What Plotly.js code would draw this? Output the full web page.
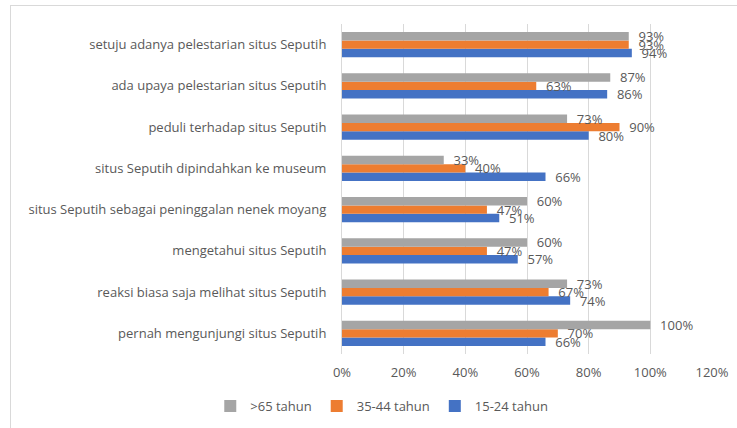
<!DOCTYPE html>
<html>
<head>
<meta charset="utf-8">
<script src="https://cdn.plot.ly/plotly-3.0.1.min.js"></script>
<style>
html,body{margin:0;padding:0;background:#fff;}
#frame{position:absolute;left:10px;top:5px;width:740px;height:440px;border-top:1.5px solid #d9d9d9;border-left:1.5px solid #d9d9d9;pointer-events:none;}
#chart{position:absolute;left:0;top:0;width:737px;height:428px;}
</style>
</head>
<body>
<div id="chart"></div>
<div id="frame"></div>
<script>
const categories = [
  "pernah mengunjungi situs Seputih",
  "reaksi biasa saja melihat situs Seputih",
  "mengetahui situs Seputih",
  "situs Seputih sebagai peninggalan nenek moyang",
  "situs Seputih dipindahkan ke museum",
  "peduli terhadap situs Seputih",
  "ada upaya pelestarian situs Seputih",
  "setuju adanya pelestarian situs Seputih"
];
const seriesNames = ["15-24 tahun", "35-44 tahun", ">65 tahun"];
const v15_24 = [66, 74, 57, 51, 66, 80, 86, 94];
const v35_44 = [70, 67, 47, 47, 40, 90, 63, 93];
const v65plus = [100, 73, 60, 60, 33, 73, 87, 93];
const tickVals = [0, 20, 40, 60, 80, 100, 120];
const tickText = ["0%", "20%", "40%", "60%", "80%", "100%", "120%"];

const colors = ["#4472c4", "#ed7d31", "#a5a5a5"];
const allVals = [v15_24, v35_44, v65plus];
const fam = "Open Sans, Liberation Sans, sans-serif";

const traces = allVals.map((vals, i) => ({
  type: "bar",
  orientation: "h",
  name: seriesNames[i],
  y: categories,
  x: vals,
  marker: {color: colors[i]},
  text: vals.map(v => "\u00a0\u00a0" + v + "%"),
  textposition: "outside",
  constraintext: "none",
  cliponaxis: false,
  textfont: {family: fam, color: "#595959", size: 13},
  hoverinfo: "none"
}));

const layout = {
  width: 737, height: 428,
  margin: {l: 342, r: 25, t: 24, b: 74},
  paper_bgcolor: "#fff", plot_bgcolor: "#fff",
  barmode: "group",
  bargap: 0.39,
  bargroupgap: 0,
  font: {family: fam, color: "#595959", size: 12},
  xaxis: {
    range: [0, 120],
    tickvals: tickVals, ticktext: tickText,
    showgrid: true, gridcolor: "#d9d9d9", gridwidth: 1,
    zeroline: false, showline: false,
    tickfont: {size: 13, color: "#595959"},
    ticks: "", ticklen: 0, ticklabelstandoff: 9,
    automargin: false, fixedrange: true
  },
  yaxis: {
    type: "category",
    showgrid: false, zeroline: false,
    showline: true, linecolor: "#d9d9d9", linewidth: 1,
    ticks: "", ticklabelstandoff: 12, automargin: false,
    tickfont: {size: 13, color: "#595959"}
  },
  showlegend: true,
  legend: {
    orientation: "h", traceorder: "reversed",
    xref: "container", yref: "container",
    x: 0.518, xanchor: "center",
    y: 0.051, yanchor: "middle",
    font: {size: 13, color: "#595959"},
    itemwidth: 30
  }
};

Plotly.newPlot("chart", traces, layout, {displayModeBar: false, staticPlot: true});
</script>
</body>
</html>
